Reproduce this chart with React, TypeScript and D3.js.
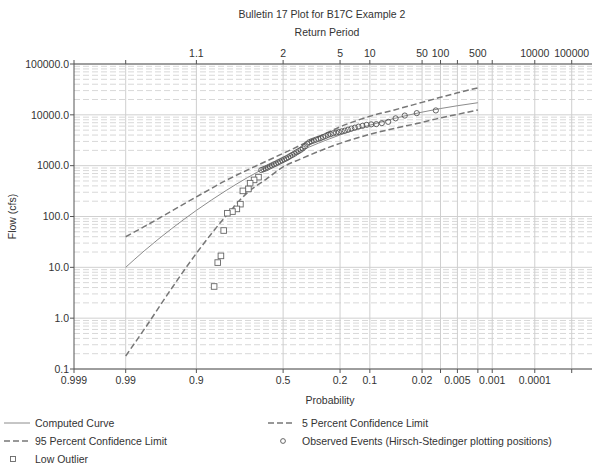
import React from "react";
import * as d3 from "d3";

// ---------- data ----------
const curveProbs = [0.99, 0.98, 0.95, 0.9, 0.8, 0.7, 0.6, 0.5, 0.4, 0.3, 0.2, 0.1, 0.05, 0.02, 0.01, 0.005, 0.002];
const computedFlow = [10, 21, 58, 132, 325, 585, 920, 1360, 1950, 2780, 4020, 6250, 8500, 11300, 13300, 15100, 17300];
const upper5Flow = [40, 63, 129, 243, 514, 826, 1215, 1745, 2510, 3690, 5800, 9340, 12500, 17600, 22100, 27100, 34000];
const lower95Flow = [0.18, 0.6, 3.9, 18.9, 103, 297, 537, 946, 1343, 1910, 2750, 4130, 5420, 7110, 8730, 10200, 12500];

const observedProbs = [
  0.0120, 0.0241, 0.0361, 0.0482, 0.0602, 0.0723, 0.0843, 0.0964, 0.1084, 0.1205,
  0.1325, 0.1446, 0.1566, 0.1687, 0.1807, 0.1928, 0.2048, 0.2169, 0.2289, 0.2410,
  0.2530, 0.2651, 0.2771, 0.2892, 0.3012, 0.3133, 0.3253, 0.3373, 0.3494, 0.3614,
  0.3735, 0.3855, 0.3976, 0.4096, 0.4217, 0.4337, 0.4458, 0.4578, 0.4699, 0.4819,
  0.4940, 0.5060, 0.5181, 0.5301, 0.5422, 0.5542, 0.5663, 0.5783, 0.5904, 0.6024,
  0.6145, 0.6265,
];
const observedFlow = [
  12200, 10800, 9680, 8530, 7280, 6870, 6560, 6500, 6350, 6070,
  5860, 5600, 5370, 5110, 4890, 4730, 4580, 4460, 4360, 4170,
  4040, 3830, 3660, 3490, 3370, 3250, 3130, 3020, 2890, 2690,
  2400, 2190, 2050, 1930, 1830, 1720, 1630, 1550, 1460, 1390,
  1330, 1270, 1210, 1160, 1100, 1060, 1010, 965, 920, 880,
  850, 820,
];

const outlierProbs = [0.642, 0.666, 0.687, 0.696, 0.724, 0.736, 0.753, 0.773, 0.795, 0.81, 0.821, 0.833, 0.846];
const outlierFlow = [594, 525, 452, 349, 319, 175, 141, 125, 116, 53, 16.8, 12.4, 4.2];

const probTicks = [0.999, 0.99, 0.9, 0.5, 0.2, 0.1, 0.02, 0.01, 0.005, 0.002, 0.001, 0.0001, 0.00001];
const bottomLabels = ["0.999", "0.99", "0.9", "0.5", "0.2", "0.1", "0.02", "", "0.005", "", "0.001", "0.0001", ""];
const topLabels = ["", "", "1.1", "2", "5", "10", "50", "100", "", "500", "", "10000", "100000"];

const flowTicks = [0.1, 1, 10, 100, 1000, 10000, 100000];
const flowLabels = ["0.1", "1.0", "10.0", "100.0", "1000.0", "10000.0", "100000.0"];

// ---------- helpers ----------
function invNorm(p: number): number {
  const a = [-3.969683028665376e1, 2.209460984245205e2, -2.759285104469687e2, 1.38357751867269e2, -3.066479806614716e1, 2.506628277459239];
  const b = [-5.447609879822406e1, 1.615858368580409e2, -1.556989798598866e2, 6.680131188771972e1, -1.328068155288572e1];
  const c = [-7.784894002430293e-3, -3.223964580411365e-1, -2.400758277161838, -2.549732539343734, 4.374664141464968, 2.938163982698783];
  const d = [7.784695709041462e-3, 3.224671290700398e-1, 2.445134137142996, 3.754408661907416];
  const pl = 0.02425;
  let q, r;
  if (p < pl) {
    q = Math.sqrt(-2 * Math.log(p));
    return (((((c[0] * q + c[1]) * q + c[2]) * q + c[3]) * q + c[4]) * q + c[5]) / ((((d[0] * q + d[1]) * q + d[2]) * q + d[3]) * q + 1);
  } else if (p <= 1 - pl) {
    q = p - 0.5;
    r = q * q;
    return ((((((a[0] * r + a[1]) * r + a[2]) * r + a[3]) * r + a[4]) * r + a[5]) * q) / (((((b[0] * r + b[1]) * r + b[2]) * r + b[3]) * r + b[4]) * r + 1);
  } else {
    q = Math.sqrt(-2 * Math.log(1 - p));
    return -(((((c[0] * q + c[1]) * q + c[2]) * q + c[3]) * q + c[4]) * q + c[5]) / ((((d[0] * q + d[1]) * q + d[2]) * q + d[3]) * q + 1);
  }
}
// exceedance probability -> standard normal deviate
const zOf = (p: number) => -invNorm(p);

const LEFT = 74, RIGHT = 592, TOP = 64, BOTTOM = 369;
const xScale = d3.scaleLinear().domain([zOf(0.999), zOf(0.0000025)]).range([LEFT, RIGHT]);
const yScale = d3.scaleLog().domain([0.1, 100000]).range([BOTTOM, TOP]);
const px = (p: number) => xScale(zOf(p));

const FONT = "'Liberation Sans', Arial, sans-serif";
const FS = 10.5;
const TXT = "#333";

export default function App() {
  const line = d3
    .line<[number, number]>()
    .x((d) => px(d[0]))
    .y((d) => yScale(d[1]))
    .curve(d3.curveMonotoneX);

  const toPairs = (vals: number[]) => curveProbs.map((p, i) => [p, vals[i]] as [number, number]);

  const minor: number[] = [];
  for (let dec = 0.1; dec < 100000; dec *= 10) {
    for (let m = 2; m <= 9; m++) minor.push(dec * m);
  }

  return (
    <svg width={592} height={465} style={{ position: "absolute", left: 0, top: 0, background: "#fff" }} fontFamily={FONT} fontSize={FS}>
      <rect x={0} y={0} width={592} height={465} fill="#fff" />
      {/* titles */}
      <text x={322} y={18} textAnchor="middle" fill={TXT}>Bulletin 17 Plot for B17C Example 2</text>
      <text x={327} y={36} textAnchor="middle" fill={TXT}>Return Period</text>

      {/* minor horizontal grid */}
      {minor.map((v, i) => (
        <line key={"mn" + i} x1={LEFT} x2={RIGHT} y1={yScale(v)} y2={yScale(v)} stroke="#d8d8d8" strokeDasharray="6,3" />
      ))}
      {/* major horizontal grid */}
      {flowTicks.map((v, i) => (
        <line key={"mj" + i} x1={LEFT} x2={RIGHT} y1={yScale(v)} y2={yScale(v)} stroke="#d0d0d0" />
      ))}
      {/* vertical grid */}
      {probTicks.slice(1).map((p, i) => (
        <line key={"vg" + i} x1={px(p)} x2={px(p)} y1={TOP} y2={BOTTOM} stroke="#cfcfcf" />
      ))}

      {/* curves */}
      <path d={line(toPairs(computedFlow)) || ""} fill="none" stroke="#8c8c8c" strokeWidth={1} />
      <path d={line(toPairs(upper5Flow)) || ""} fill="none" stroke="#777" strokeWidth={1.5} strokeDasharray="6,3" />
      <path d={line(toPairs(lower95Flow)) || ""} fill="none" stroke="#777" strokeWidth={1.5} strokeDasharray="6,3" />

      {/* observed */}
      {observedProbs.map((p, i) => (
        <circle key={"ob" + i} cx={px(p)} cy={yScale(observedFlow[i])} r={2.6} fill="none" stroke="#555" strokeWidth={0.9} />
      ))}
      {outlierProbs.map((p, i) => (
        <rect key={"lo" + i} x={px(p) - 2.8} y={yScale(outlierFlow[i]) - 2.8} width={5.6} height={5.6} fill="#fff" stroke="#666" strokeWidth={0.9} />
      ))}

      {/* axes */}
      <line x1={LEFT} x2={LEFT} y1={TOP} y2={BOTTOM} stroke="#555" />
      <line x1={LEFT} x2={RIGHT} y1={BOTTOM} y2={BOTTOM} stroke="#555" />
      <line x1={LEFT} x2={RIGHT} y1={TOP} y2={TOP} stroke="#555" />

      {flowTicks.map((v, i) => (
        <g key={"yt" + i}>
          <line x1={LEFT - 4} x2={LEFT} y1={yScale(v)} y2={yScale(v)} stroke="#555" />
          <text x={LEFT - 5} y={yScale(v) + 3.8} textAnchor="end" fill={TXT}>{flowLabels[i]}</text>
        </g>
      ))}
      {probTicks.map((p, i) => (
        <g key={"xt" + i}>
          <line x1={px(p)} x2={px(p)} y1={BOTTOM} y2={BOTTOM + 4} stroke="#555" />
          <line x1={px(p)} x2={px(p)} y1={TOP - 4} y2={TOP} stroke="#555" />
          {bottomLabels[i] && (
            <text x={px(p)} y={BOTTOM + 15} textAnchor="middle" fill={TXT}>{bottomLabels[i]}</text>
          )}
          {topLabels[i] && (
            <text x={px(p)} y={TOP - 7} textAnchor="middle" fill={TXT}>{topLabels[i]}</text>
          )}
        </g>
      ))}

      <text x={330} y={404} textAnchor="middle" fill={TXT}>Probability</text>
      <text transform={`translate(16,${(TOP + BOTTOM) / 2}) rotate(-90)`} textAnchor="middle" fill={TXT}>Flow (cfs)</text>

      {/* legend */}
      <line x1={4} x2={30} y1={423} y2={423} stroke="#8c8c8c" />
      <text x={35} y={427} fill={TXT}>Computed Curve</text>
      <line x1={268} x2={295} y1={423} y2={423} stroke="#777" strokeWidth={1.5} strokeDasharray="6,3" />
      <text x={302} y={427} fill={TXT}>5 Percent Confidence Limit</text>
      <line x1={4} x2={30} y1={441} y2={441} stroke="#777" strokeWidth={1.5} strokeDasharray="6,3" />
      <text x={35} y={445} fill={TXT}>95 Percent Confidence Limit</text>
      <circle cx={283} cy={441} r={2.4} fill="none" stroke="#555" strokeWidth={0.9} />
      <text x={302} y={445} fill={TXT}>Observed Events (Hirsch-Stedinger plotting positions)</text>
      <rect x={10.5} y={456.5} width={5} height={5} fill="#fff" stroke="#666" strokeWidth={0.9} />
      <text x={35} y={463} fill={TXT}>Low Outlier</text>
    </svg>
  );
}
